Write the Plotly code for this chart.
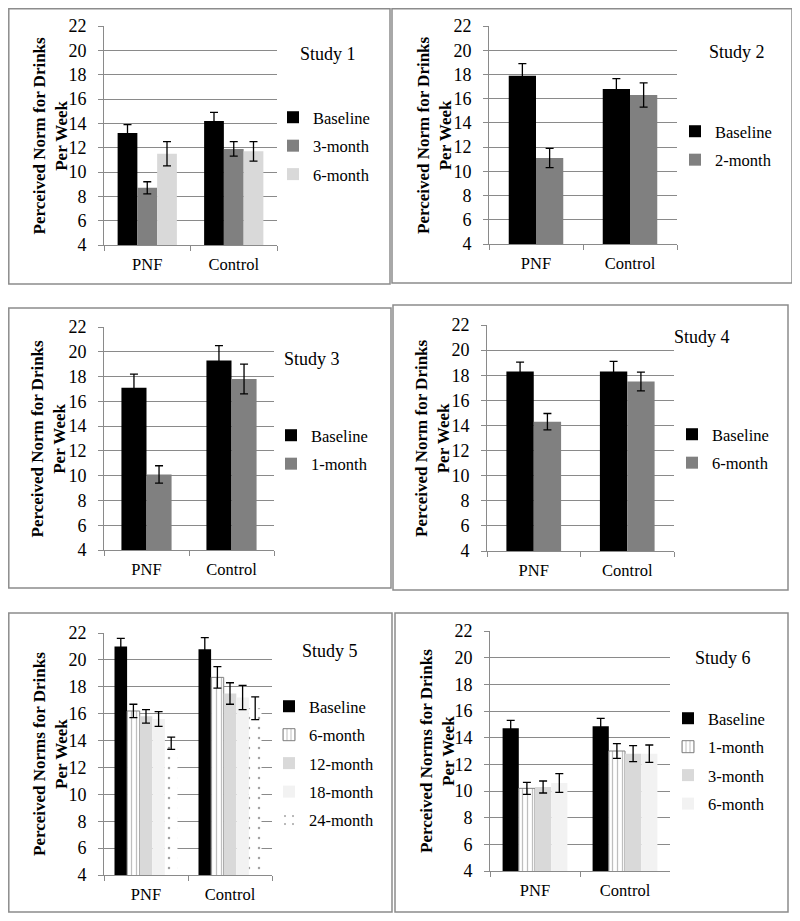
import plotly.graph_objects as go

W, H = 800, 921
PAGE_OFFSET = 8  # the page body places the figure 8px from the window edge

groups = ["PNF", "Control"]

s1_series = ["Baseline", "3-month", "6-month"]
s1_values = [[13.2, 14.2], [8.7, 11.9], [11.5, 11.7]]
s1_errors = [[0.7, 0.7], [0.5, 0.6], [1.0, 0.8]]

s2_series = ["Baseline", "2-month"]
s2_values = [[17.9, 16.8], [11.1, 16.3]]
s2_errors = [[1.0, 0.85], [0.8, 1.0]]

s3_series = ["Baseline", "1-month"]
s3_values = [[17.1, 19.3], [10.1, 17.8]]
s3_errors = [[1.1, 1.2], [0.7, 1.2]]

s4_series = ["Baseline", "6-month"]
s4_values = [[18.3, 18.3], [14.3, 17.5]]
s4_errors = [[0.75, 0.8], [0.65, 0.75]]

s5_series = ["Baseline", "6-month", "12-month", "18-month", "24-month"]
s5_values = [[21.0, 20.8], [16.2, 18.7], [15.8, 17.5], [15.6, 17.2], [13.8, 16.4]]
s5_errors = [[0.6, 0.85], [0.5, 0.8], [0.5, 0.8], [0.55, 0.9], [0.45, 0.85]]

s6_series = ["Baseline", "1-month", "3-month", "6-month"]
s6_values = [[14.7, 14.85], [10.2, 13.0], [10.3, 12.8], [10.6, 12.8]]
s6_errors = [[0.6, 0.6], [0.45, 0.55], [0.45, 0.6], [0.7, 0.65]]

study_titles = ["Study 1", "Study 2", "Study 3", "Study 4", "Study 5", "Study 6"]
y_titles = ["Perceived Norm for Drinks<br>Per Week"] * 4 + ["Perceived Norms for Drinks<br>Per Week"] * 2
y_ticks = [4, 6, 8, 10, 12, 14, 16, 18, 20, 22]

SERIF = "Liberation Serif, Times New Roman, serif"
GRID = "#8a8a8a"

# panel layout in window pixels: border box, plot box, group width fraction,
# y-title centre x, study label centre, legend (text start x, first row centre y)
panels = [
    dict(border=(7, 7, 390, 284), plot=(104, 26, 277, 245), frac=0.685, ytx=50,
         study=(328, 54), legend=(315, 118)),
    dict(border=(392, 7, 792, 283), plot=(489, 26, 677, 244), frac=0.58, ytx=434,
         study=(737, 52), legend=(717, 132)),
    dict(border=(7, 308, 391, 588), plot=(104, 327, 274, 550), frac=0.59, ytx=48,
         study=(312, 359), legend=(313, 436)),
    dict(border=(393, 305, 788, 590), plot=(487, 325, 674, 551), frac=0.585, ytx=432,
         study=(702, 337), legend=(714, 435)),
    dict(border=(7, 613, 392, 912), plot=(104, 633, 272, 875), frac=0.75, ytx=50,
         study=(330, 651), legend=(311, 707)),
    dict(border=(395, 613, 788, 912), plot=(490, 631, 670, 871), frac=0.72, ytx=437,
         study=(723, 658), legend=(710, 719)),
]

data_sets = [
    (s1_series, s1_values, s1_errors),
    (s2_series, s2_values, s2_errors),
    (s3_series, s3_values, s3_errors),
    (s4_series, s4_values, s4_errors),
    (s5_series, s5_values, s5_errors),
    (s6_series, s6_values, s6_errors),
]


def px_x(x):
    return max(x - PAGE_OFFSET, 0.8) / W


def px_y(y):
    return 1 - max(y - PAGE_OFFSET, 0.8) / H


def bar_style(panel_idx, name):
    if name == "Baseline":
        return dict(color="#000000", line=dict(color="#000000", width=0))
    if panel_idx in (1, 2, 3):
        return dict(color="#808080", line=dict(width=0))
    if panel_idx == 0:
        return dict(color="#808080" if name == "3-month" else "#d9d9d9", line=dict(width=0))
    order = data_sets[panel_idx][0]
    pos = order.index(name)
    if pos == 1:
        return dict(color="white", line=dict(color="#808080", width=1),
                    pattern=dict(shape="|", fgcolor="#808080", bgcolor="white", size=5, solidity=0.25))
    if pos == 2:
        return dict(color="#d9d9d9", line=dict(width=0))
    if pos == 3:
        return dict(color="#f2f2f2", line=dict(width=0))
    return dict(color="white", line=dict(width=0),
                pattern=dict(shape=".", fgcolor="#444444", bgcolor="white", size=10, solidity=0.05))


fig = go.Figure()
layout_updates = {}
shapes = []
annotations = []

for i, (p, (series, values, errors)) in enumerate(zip(panels, data_sets)):
    k = "" if i == 0 else str(i + 1)
    xa, ya = "x" + k, "y" + k
    leg = "legend" + k
    n = len(series)
    w = p["frac"] / n
    for j, name in enumerate(series):
        fig.add_trace(go.Bar(
            x=groups, y=values[j], name=name,
            xaxis=xa, yaxis=ya, legend=leg, legendgroup=f"g{i}_{j}",
            width=w, offset=-p["frac"] / 2 + j * w,
            marker=bar_style(i, name),
            error_y=dict(type="data", array=errors[j], color="black", thickness=1.3, width=4),
        ))
    x0, y0, x1, y1 = p["plot"]
    layout_updates["xaxis" + k] = dict(
        domain=[px_x(x0), px_x(x1)], anchor=ya, type="category",
        categoryorder="array", categoryarray=groups,
        showline=True, linecolor=GRID, linewidth=1,
        ticks="outside", tickson="boundaries", ticklen=5, tickcolor=GRID,
        showgrid=False, range=[-0.5, 1.5],
        tickfont=dict(family=SERIF, size=16.5, color="black"),
        ticklabelstandoff=4,
    )
    layout_updates["yaxis" + k] = dict(
        domain=[px_y(y1), px_y(y0)], anchor=xa, range=[4, 22],
        tickvals=y_ticks, showgrid=True, gridcolor=GRID, gridwidth=1,
        showline=True, linecolor=GRID, linewidth=1, zeroline=False,
        ticks="outside", ticklen=5, tickcolor=GRID,
        tickfont=dict(family=SERIF, size=18, color="black"),
        ticklabelstandoff=8,
    )
    lx, ly = p["legend"]
    layout_updates[leg] = dict(
        x=px_x(lx - 42), y=px_y(ly - 18), xanchor="left", yanchor="top",
        bgcolor="rgba(0,0,0,0)", font=dict(family=SERIF, size=16.5, color="black"),
        tracegroupgap=4, itemwidth=30, traceorder="grouped",
    )
    bx0, by0, bx1, by1 = p["border"]
    shapes.append(dict(type="rect", xref="paper", yref="paper",
                       x0=px_x(bx0), x1=px_x(bx1), y0=px_y(by1), y1=px_y(by0),
                       line=dict(color="#8c8c8c", width=1.5), layer="below"))
    sx, sy = p["study"]
    annotations.append(dict(text=study_titles[i], x=px_x(sx), y=px_y(sy), xref="paper", yref="paper",
                            xanchor="center", yanchor="middle", showarrow=False,
                            font=dict(family=SERIF, size=18, color="black")))
    annotations.append(dict(text="<b>" + y_titles[i].replace("<br>", "</b><br><b>") + "</b>",
                            x=px_x(p["ytx"]), y=px_y((y0 + y1) / 2), xref="paper", yref="paper",
                            xanchor="center", yanchor="middle", showarrow=False, textangle=-90,
                            font=dict(family=SERIF, size=17, color="black")))

fig.update_layout(
    width=W, height=H, margin=dict(l=0, r=0, t=0, b=0, autoexpand=False),
    paper_bgcolor="white", plot_bgcolor="white",
    barmode="overlay", shapes=shapes, annotations=annotations,
    **layout_updates,
)

fig.write_html("out.html")
